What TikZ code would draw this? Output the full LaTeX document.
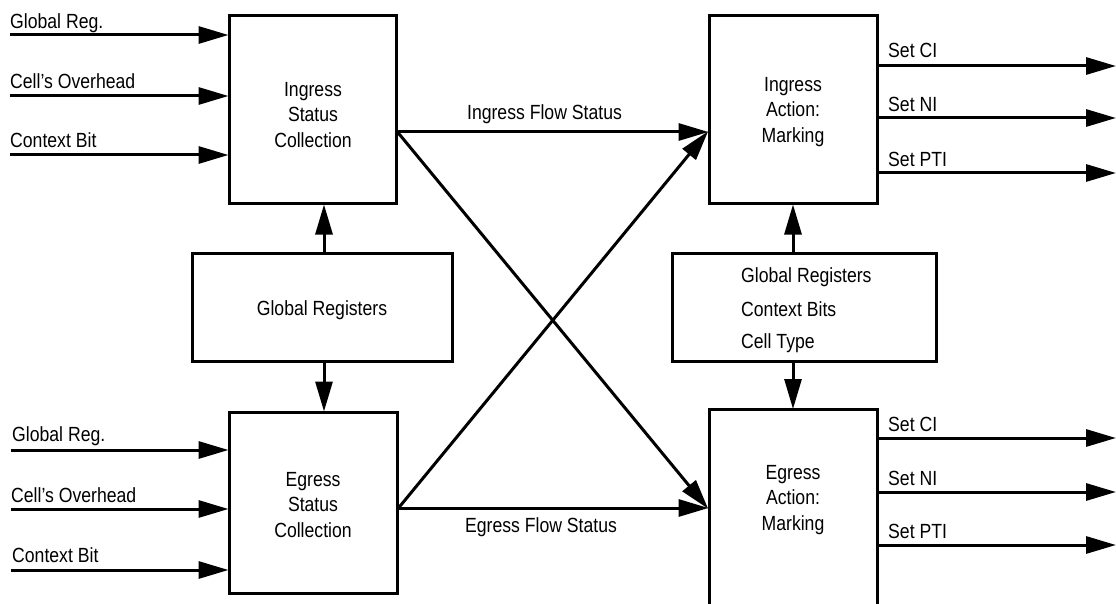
\documentclass[tikz,border=0pt]{standalone}
\usepackage{fontspec}
\setmainfont{Liberation Sans}[FakeStretch=0.86]
\usetikzlibrary{arrows.meta}
\begin{document}
\begin{tikzpicture}[x=1pt,y=-1pt,
  font=\fontsize{20.5}{25.5}\selectfont,
  box/.style={draw, line width=3pt, inner sep=0pt},
  arr/.style={line width=3pt, -{Triangle[length=30pt,width=17pt]}, shorten >=-1pt},
  lbl/.style={anchor=base west, inner sep=0pt},
  txt/.style={inner sep=0pt, align=center}]
\useasboundingbox (0,0) rectangle (1116,604);
% boxes
\node[box, minimum width=167pt, minimum height=188pt] (isc) at (312.5,110) {};
\node[txt] (isctxt) at (313,115) {Ingress\\Status\\Collection};
\node[box, minimum width=168pt, minimum height=181pt] (esc) at (313,502.5) {};
\node[txt] (esctxt) at (313,505) {Egress\\Status\\Collection};
\node[box, minimum width=260pt, minimum height=108pt] (grl) at (322,307) {};
\node[txt] (grltxt) at (322,310) {Global Registers};
\node[box, minimum width=168pt, minimum height=188pt] (iam) at (793,110) {};
\node[txt] (iamtxt) at (793,112) {Ingress\\Action:\\Marking};
\node[box, minimum width=264pt, minimum height=108pt] (grr) at (804,307) {};
\node[box, minimum width=168pt, minimum height=240pt, anchor=north] (eam) at (793,408) {};
\node[txt] (eamtxt) at (793,500) {Egress\\Action:\\Marking};
\node[lbl] (grr1) at (741,282) {Global Registers};
\node[lbl] (grr2) at (741,316) {Context Bits};
\node[lbl] (grr3) at (741,348) {Cell Type};
% inputs ingress
\coordinate (a1) at (10,35);
\coordinate (a2) at (10,96);
\coordinate (a3) at (10,155);
\node[lbl] (la1) at (10,29) {Global Reg.};
\node[lbl] (la2) at (10,89) {Cell’s Overhead};
\node[lbl] (la3) at (10,148) {Context Bit};
\draw[arr] (a1) -- (isc.west |- a1);
\draw[arr] (a2) -- (isc.west |- a2);
\draw[arr] (a3) -- (isc.west |- a3);
% inputs egress
\coordinate (b1) at (11,450);
\coordinate (b2) at (11,509);
\coordinate (b3) at (11,570);
\node[lbl] (lb1) at (12,441) {Global Reg.};
\node[lbl] (lb2) at (11,502) {Cell’s Overhead};
\node[lbl] (lb3) at (12,562) {Context Bit};
\draw[arr] (b1) -- (esc.west |- b1);
\draw[arr] (b2) -- (esc.west |- b2);
\draw[arr] (b3) -- (esc.west |- b3);
% outputs ingress
\coordinate (c1) at (1115,66);
\coordinate (c2) at (1115,118);
\coordinate (c3) at (1115,173);
\node[lbl] (lc1) at (888,58) {Set CI};
\node[lbl] (lc2) at (888,112) {Set NI};
\node[lbl] (lc3) at (888,167) {Set PTI};
\draw[arr] (iam.east |- c1) -- (c1);
\draw[arr] (iam.east |- c2) -- (c2);
\draw[arr] (iam.east |- c3) -- (c3);
% outputs egress
\coordinate (d1) at (1115,438);
\coordinate (d2) at (1115,492);
\coordinate (d3) at (1115,545);
\node[lbl] (ld1) at (888,431) {Set CI};
\node[lbl] (ld2) at (888,485) {Set NI};
\node[lbl] (ld3) at (888,538) {Set PTI};
\draw[arr] (eam.east |- d1) -- (d1);
\draw[arr] (eam.east |- d2) -- (d2);
\draw[arr] (eam.east |- d3) -- (d3);
% vertical arrows
\draw[arr] (grl.north -| 324,0) -- (isc.south -| 324,0);
\draw[arr] (grl.south -| 324,0) -- (esc.north -| 324,0);
\draw[arr] (iam.south |- grr.north) -- (iam.south);
\draw[arr] (eam.north |- grr.south) -- (eam.north);
% flows
\coordinate (y1) at (0,132);
\coordinate (y2) at (0,508);
\draw[arr] (isc.east |- y1) -- node[above=7pt, inner sep=0pt, xshift=-8pt] (ifs) {Ingress Flow Status} (iam.west |- y1);
\draw[arr] (esc.east |- y2) -- node[below=8pt, inner sep=0pt, xshift=-12pt] (efs) {Egress Flow Status} (eam.west |- y2);
\draw[arr] (isc.east |- y1) -- (eam.west |- y2);
\draw[arr] (esc.east |- y2) -- (iam.west |- y1);
\end{tikzpicture}
\end{document}
